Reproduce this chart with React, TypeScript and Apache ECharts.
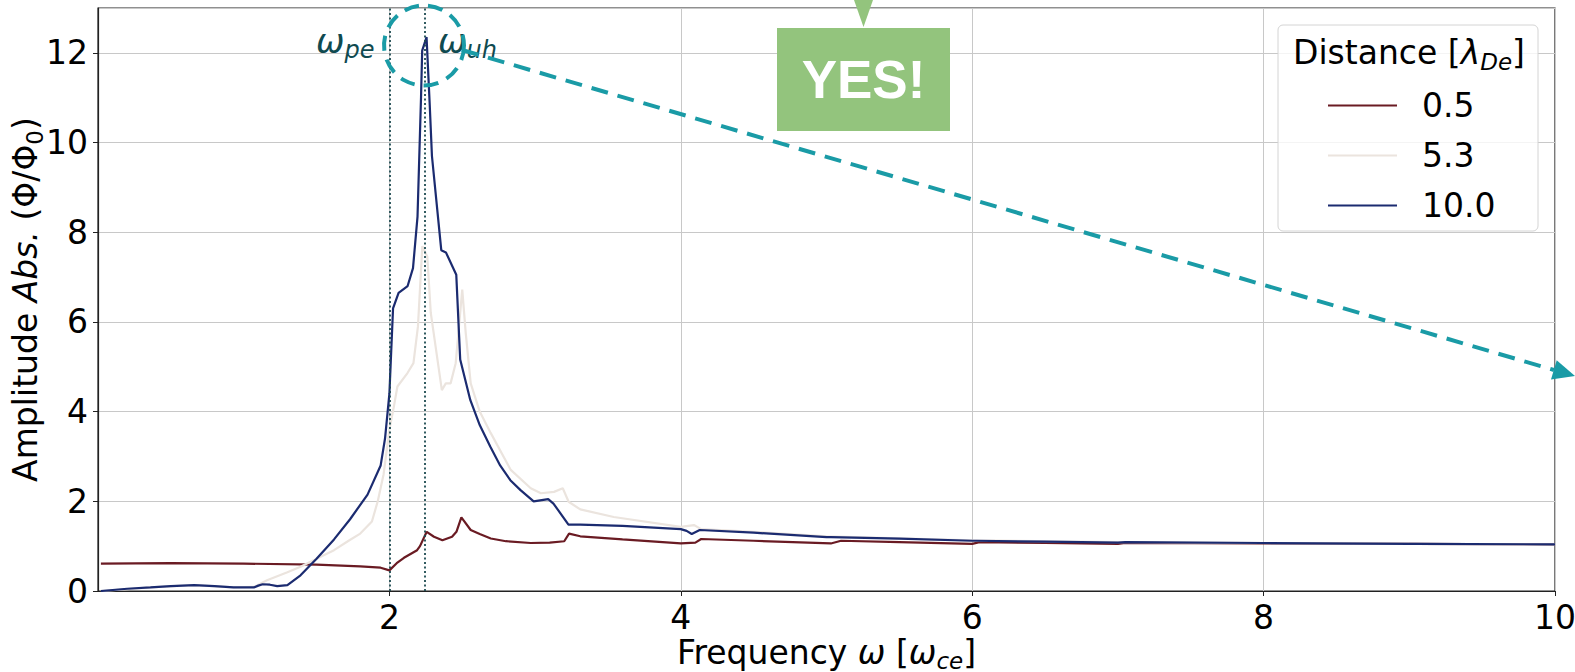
import React, { useEffect, useRef } from "react";
import * as echarts from "echarts";

// Distance 0.5 λDe
const freq05 = [0.02, 0.5, 1.0, 1.5, 1.8, 1.94, 2.0, 2.05, 2.1, 2.19, 2.21, 2.256, 2.306, 2.364, 2.43, 2.46, 2.494, 2.558, 2.62, 2.696, 2.8, 2.97, 3.1, 3.2, 3.233, 3.31, 3.6, 4.0, 4.1, 4.14, 4.5, 5.03, 5.1, 5.5, 6.0, 6.05, 6.5, 7.0, 7.05, 8.0, 9.0, 10.0];
const amp05 = [0.61, 0.62, 0.61, 0.59, 0.55, 0.52, 0.46, 0.62, 0.74, 0.91, 1.0, 1.32, 1.21, 1.13, 1.21, 1.32, 1.64, 1.36, 1.27, 1.17, 1.11, 1.07, 1.08, 1.11, 1.28, 1.22, 1.15, 1.06, 1.08, 1.16, 1.12, 1.06, 1.12, 1.09, 1.05, 1.09, 1.07, 1.05, 1.07, 1.06, 1.05, 1.04];

// Distance 5.3 λDe
const freq53 = [0.02, 0.36, 0.66, 0.93, 1.07, 1.16, 1.3, 1.39, 1.5, 1.62, 1.72, 1.8, 1.88, 1.92, 1.96, 2.0, 2.03, 2.055, 2.124, 2.165, 2.196, 2.226, 2.26, 2.284, 2.36, 2.387, 2.42, 2.455, 2.5, 2.524, 2.558, 2.62, 2.696, 2.833, 2.97, 3.04, 3.13, 3.19, 3.23, 3.31, 3.54, 4.0, 4.09, 4.14, 4.5, 5.0, 6.0, 7.0, 8.0, 9.0, 10.0];
const amp53 = [0.0, 0.08, 0.13, 0.08, 0.09, 0.24, 0.42, 0.54, 0.72, 0.91, 1.12, 1.28, 1.55, 2.0, 2.6, 3.6, 4.1, 4.56, 4.86, 5.08, 5.9, 7.69, 7.46, 6.2, 4.48, 4.63, 4.63, 5.08, 6.72, 5.75, 4.63, 4.0, 3.52, 2.7, 2.29, 2.18, 2.21, 2.29, 1.99, 1.82, 1.65, 1.43, 1.47, 1.38, 1.32, 1.22, 1.13, 1.09, 1.07, 1.05, 1.04];

// Distance 10.0 λDe
const freq10 = [0.02, 0.2, 0.36, 0.5, 0.66, 0.8, 0.93, 1.07, 1.1, 1.13, 1.18, 1.23, 1.3, 1.39, 1.5, 1.62, 1.73, 1.85, 1.94, 1.97, 2.0, 2.025, 2.063, 2.125, 2.162, 2.193, 2.217, 2.225, 2.255, 2.276, 2.292, 2.356, 2.388, 2.459, 2.486, 2.555, 2.62, 2.692, 2.76, 2.83, 2.9, 2.99, 3.09, 3.126, 3.229, 3.31, 3.6, 4.0, 4.04, 4.075, 4.13, 4.5, 5.0, 5.03, 5.5, 6.0, 6.03, 6.5, 7.0, 7.05, 8.0, 9.0, 9.05, 10.0];
const amp10 = [0.0, 0.05, 0.08, 0.11, 0.13, 0.11, 0.08, 0.08, 0.12, 0.15, 0.14, 0.11, 0.13, 0.35, 0.72, 1.15, 1.6, 2.15, 2.8, 3.4, 4.4, 6.3, 6.65, 6.8, 7.2, 8.35, 11.0, 12.05, 12.35, 10.9, 9.7, 7.6, 7.55, 7.05, 5.16, 4.26, 3.7, 3.22, 2.8, 2.47, 2.25, 2.0, 2.05, 1.95, 1.48, 1.48, 1.45, 1.38, 1.34, 1.27, 1.36, 1.3, 1.2, 1.2, 1.17, 1.12, 1.12, 1.1, 1.08, 1.09, 1.07, 1.05, 1.05, 1.04];

const legendNames = ["0.5", "5.3", "10.0"];
const seriesColors = ["#6a1b23", "#ebe4de", "#1b2b70"];
const omegaPe = 2.0;
const omegaUh = 2.24;

const FONT = "DejaVu Sans";
const TEAL = "#1a9ba6";
const DARKTEAL = "#0f4a50";
const GREEN = "#93c47d";

const pair = (xs: number[], ys: number[]) => xs.map((x, i) => [x, ys[i]]);

const richMain = (size: number, lh: number, color: string) => ({
  r: { fontSize: size, fontFamily: FONT, lineHeight: lh, color, fill: color },
  i: { fontSize: size, fontFamily: FONT, fontStyle: "italic", lineHeight: lh, color, fill: color },
  s: { fontSize: Math.round(size * 0.7), fontFamily: FONT, fontStyle: "italic", lineHeight: Math.round(size * 0.7), verticalAlign: "bottom", color, fill: color },
  u: { fontSize: Math.round(size * 0.7), fontFamily: FONT, lineHeight: Math.round(size * 0.7), verticalAlign: "bottom", color, fill: color },
});

export default function App() {
  const ref = useRef<HTMLDivElement>(null);
  useEffect(() => {
    const chart = echarts.init(ref.current!, null, { renderer: "svg" });
    const datasets = [pair(freq05, amp05), pair(freq53, amp53), pair(freq10, amp10)];
    chart.setOption({
      animation: false,
      backgroundColor: "#ffffff",
      grid: {
        left: 98,
        right: 20,
        top: 8,
        bottom: 81,
        show: true,
        containLabel: false,
        outerBoundsMode: "none",
        borderColor: "#222",
        borderWidth: 1.2,
        backgroundColor: "transparent",
      },
      xAxis: {
        type: "value",
        min: 0,
        max: 10,
        interval: 2,
        name: "{r|Frequency }{i|ω}{r| [}{i|ω}{s|ce}{r|]}",
        nameLocation: "middle",
        nameGap: 41,
        nameMoveOverlap: false,
        nameTextStyle: { rich: richMain(33, 40, "#000") },
        axisLine: { show: true, lineStyle: { color: "#222", width: 1.2 } },
        axisTick: { show: true, inside: false, length: 5, lineStyle: { color: "#222" } },
        axisLabel: { showMinLabel: false, fontSize: 33, fontFamily: FONT, color: "#000", margin: 10 },
        splitLine: { show: true, lineStyle: { color: "#c8c8c8", width: 1 } },
      },
      yAxis: {
        type: "value",
        min: 0,
        max: 13,
        interval: 2,
        name: "{r|Amplitude }{i|Abs.}{r| (Φ/Φ}{u|0}{r|)}",
        nameLocation: "middle",
        nameGap: 52,
        nameMoveOverlap: false,
        nameTextStyle: { rich: richMain(33, 42, "#000") },
        axisLine: { show: true, lineStyle: { color: "#222", width: 1.2 } },
        axisTick: { show: true, inside: false, length: 5, lineStyle: { color: "#222" } },
        axisLabel: { showMaxLabel: false, fontSize: 33, fontFamily: FONT, color: "#000", margin: 10 },
        splitLine: { show: true, lineStyle: { color: "#c8c8c8", width: 1 } },
      },
      legend: {
        data: legendNames.map((name) => ({ name, icon: "rect" })),
        orient: "vertical",
        left: 1323,
        top: 84,
        itemWidth: 69,
        itemHeight: 2,
        itemGap: 17,
        selectedMode: false,
        z: 6,
        textStyle: { fontSize: 33, fontFamily: FONT, color: "#000", lineHeight: 33, padding: [0, 0, 0, 20] },
      },
      series: legendNames.map((name, k) => ({
        type: "line",
        name,
        data: datasets[k],
        symbol: "none",
        showSymbol: false,
        smooth: false,
        silent: true,
        z: 2 + k,
        lineStyle: { color: seriesColors[k], width: 2.2 },
        itemStyle: { color: seriesColors[k] },
        markLine:
          k === 2
            ? {
                silent: true,
                symbol: "none",
                label: { show: false },
                lineStyle: { color: "#1c4a50", type: [2, 2.5], width: 1.8 },
                data: [{ xAxis: omegaPe }, { xAxis: omegaUh }],
              }
            : undefined,
      })),
      graphic: [
        {
          type: "rect",
          z: 5,
          shape: { x: 1278, y: 25, width: 260, height: 206, r: 5 },
          style: { fill: "rgba(255,255,255,0.8)", stroke: "#d4d4d4", lineWidth: 1 },
        },
        {
          type: "text",
          z: 6,
          x: 1293,
          y: 31,
          style: {
            text: "{r|Distance [}{i|λ}{s|De}{r|]}",
            rich: richMain(33, 42, "#000"),
            align: "left",
            verticalAlign: "top",
          },
        },
        {
          type: "text",
          z: 20,
          x: 316,
          y: 20,
          style: {
            text: "{i|ω}{s|pe}",
            rich: richMain(34, 42, DARKTEAL),
            align: "left",
            verticalAlign: "top",
          },
        },
        {
          type: "text",
          z: 20,
          x: 438,
          y: 20,
          style: {
            text: "{i|ω}{s|uh}",
            rich: richMain(34, 42, DARKTEAL),
            align: "left",
            verticalAlign: "top",
          },
        },
        {
          type: "circle",
          z: 20,
          shape: { cx: 424, cy: 45.5, r: 40 },
          style: { fill: "none", stroke: TEAL, lineWidth: 4, lineDash: [15, 9] },
        },
        {
          type: "line",
          z: 20,
          shape: { x1: 462, y1: 50, x2: 1554, y2: 370 },
          style: { stroke: TEAL, lineWidth: 4, lineDash: [17, 10] },
        },
        {
          type: "polygon",
          z: 20,
          shape: { points: [[1575, 376], [1551, 379.5], [1556.7, 360.2]] },
          style: { fill: TEAL },
        },
        {
          type: "polygon",
          z: 20,
          shape: { points: [[854, 0], [873, 0], [863.5, 27]] },
          style: { fill: GREEN },
        },
        {
          type: "rect",
          z: 20,
          shape: { x: 777, y: 28, width: 173, height: 103 },
          style: { fill: GREEN },
        },
        {
          type: "text",
          z: 21,
          x: 863.5,
          y: 79,
          style: {
            text: "YES!",
            fontSize: 53,
            fontWeight: "bold",
            fontFamily: "Liberation Sans, Arial, sans-serif",
            fill: "#ffffff",
            align: "center",
            verticalAlign: "middle",
          },
        },
      ],
    });
    return () => chart.dispose();
  }, []);
  return (
    <div
      ref={ref}
      style={{ position: "fixed", left: 0, top: 0, width: 1575, height: 672, background: "#fff" }}
    />
  );
}
